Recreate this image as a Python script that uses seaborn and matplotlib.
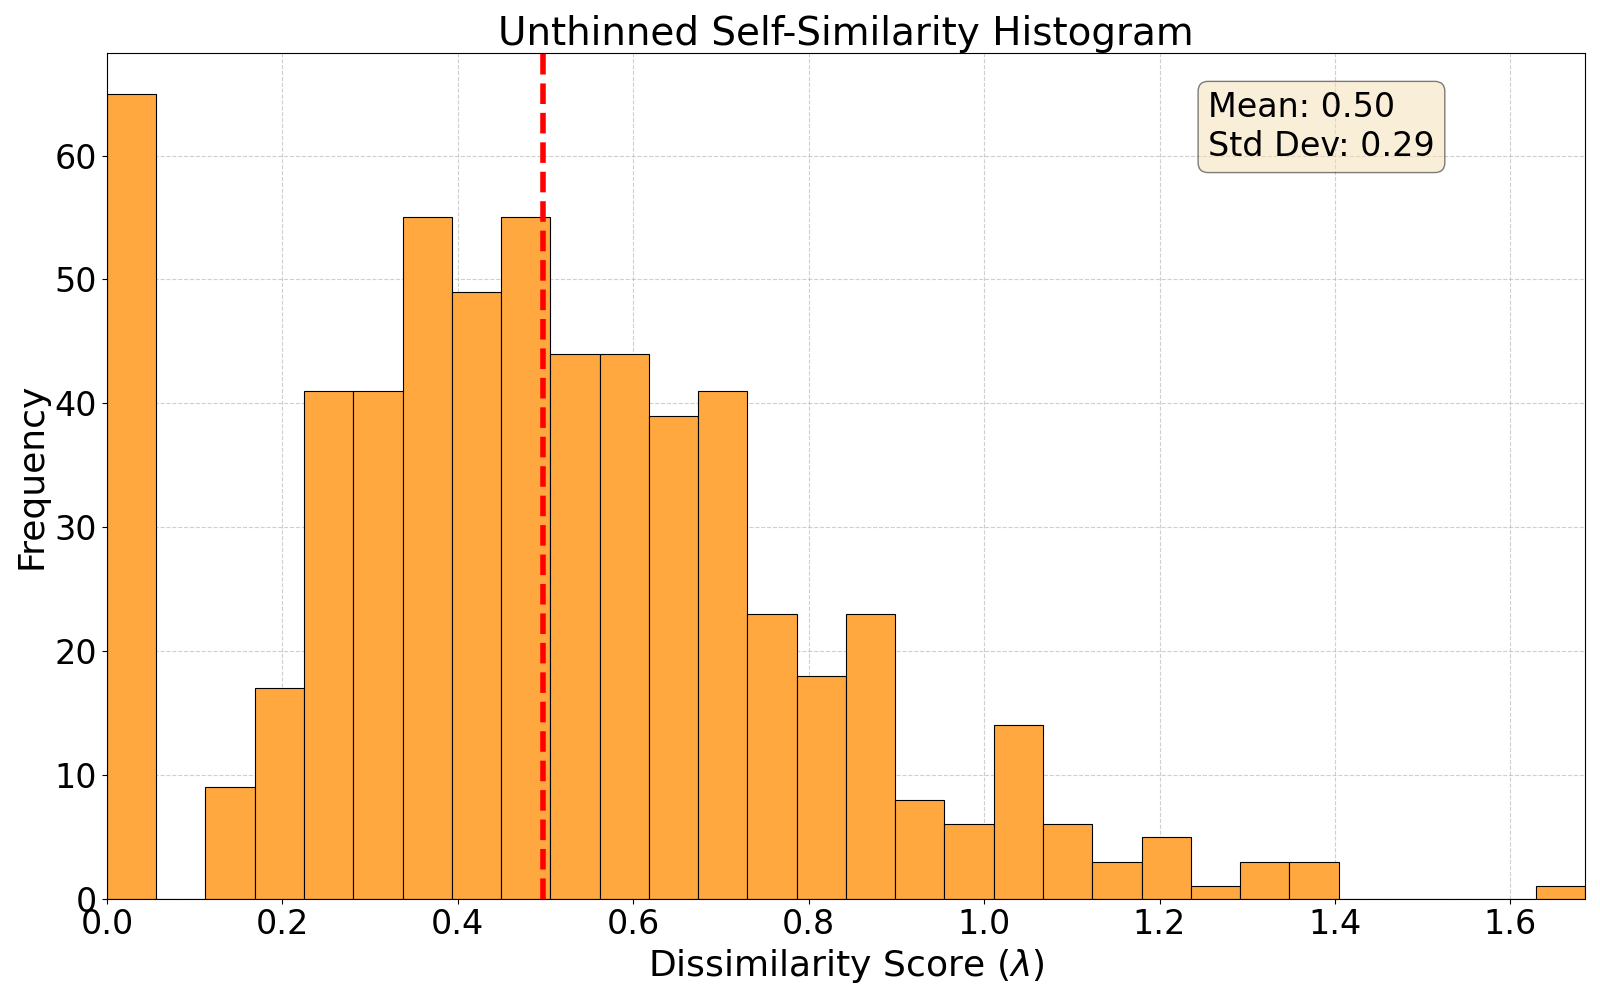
import numpy as np
import pandas as pd
import matplotlib
matplotlib.use("Agg")
import matplotlib.pyplot as plt
import seaborn as sns

counts = [65, 0, 9, 17, 41, 41, 55, 49, 55, 44, 44, 39, 41, 23, 18, 23, 8, 6, 14, 6, 3, 5, 1, 3, 3, 0, 0, 0, 0, 1]
x_min, x_max = 0.0, 1.685
mean_val = 0.497
mean_label = "0.50"
std_label = "0.29"

edges = np.linspace(x_min, x_max, len(counts) + 1)
centers = (edges[:-1] + edges[1:]) / 2
df = pd.DataFrame({"x": centers, "w": counts})

fig, ax = plt.subplots(figsize=(16, 10), dpi=100)
sns.histplot(data=df, x="x", weights="w", bins=len(counts), binrange=(x_min, x_max),
             ax=ax, color="#FFA840", alpha=1.0, edgecolor="black", linewidth=0.8, zorder=2)
ax.axvline(mean_val, color="red", linestyle="--", linewidth=4, zorder=3)
ax.grid(True, linestyle="--", alpha=0.6, zorder=0)
ax.set_axisbelow(True)
ax.set_xlim(x_min, x_max)
ax.set_ylim(0, 68.25)
ax.set_title("Unthinned Self-Similarity Histogram", fontsize=28)
ax.set_xlabel(r"Dissimilarity Score ($\lambda$)", fontsize=26)
ax.set_ylabel("Frequency", fontsize=26)
ax.tick_params(labelsize=24)
ax.text(0.745, 0.955, f"Mean: {mean_label}\nStd Dev: {std_label}", transform=ax.transAxes,
        fontsize=24, va="top", ha="left",
        bbox=dict(boxstyle="round", facecolor="wheat", alpha=0.5))
plt.tight_layout()
fig.savefig("out.png")
